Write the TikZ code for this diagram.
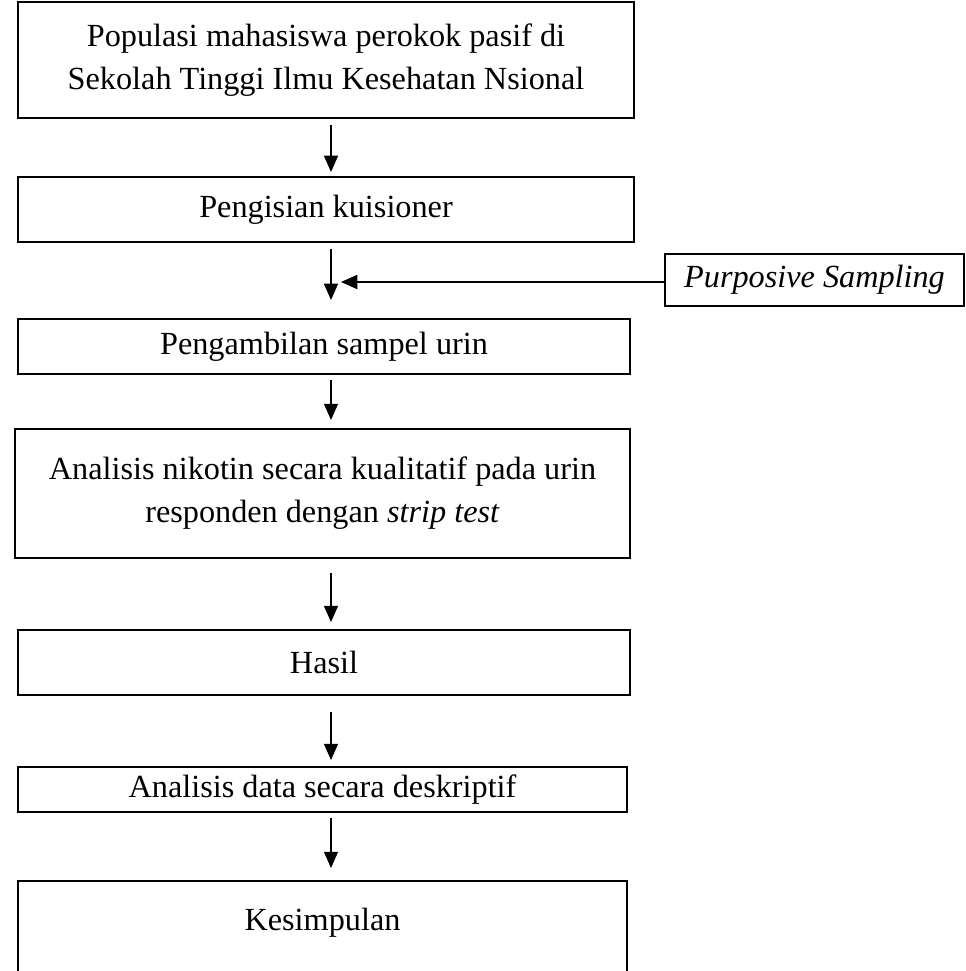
\documentclass[tikz,border=0pt]{standalone}
\usepackage{fontspec}
\setmainfont{Liberation Serif}
\usetikzlibrary{arrows.meta}

\begin{document}
\begin{tikzpicture}[x=0.4pt,y=-0.4pt,
        every node/.append style={font=\fontsize{12.9}{17.4}\selectfont},
        flow/.style={-{Triangle[length=6.5pt,width=5.6pt]},line width=0.6pt}]
      \tikzstyle{box} = [draw,rectangle,line width=0.8pt,align=center,inner sep=0pt]
      \useasboundingbox (0,0) rectangle (965,971);
      % kotak alur utama
      \node (populasi) [box,minimum width=246.4pt,minimum height=46.4pt] at (326,60)
        {Populasi mahasiswa perokok pasif di\\Sekolah Tinggi Ilmu Kesehatan Nsional};
      \node (kuisioner) [box,minimum width=246.4pt,minimum height=26pt] at (326,210)
        {Pengisian kuisioner};
      \node (purposive) [box,minimum width=119.6pt,minimum height=20.8pt] at (814.5,280)
        {\itshape Purposive Sampling};
      \node (sampel) [box,minimum width=244.8pt,minimum height=22pt] at (324,346.5)
        {Pengambilan sampel urin};
      \node (analisis) [box,minimum width=246pt,minimum height=51.6pt] at (322.5,493)
        {Analisis nikotin secara kualitatif pada urin\\responden dengan \textit{strip test}};
      \node (hasil) [box,minimum width=244.8pt,minimum height=26pt] at (324,662.5)
        {Hasil};
      \node (deskriptif) [box,minimum width=243.6pt,minimum height=18pt] at (322.5,789.5)
        {Analisis data secara deskriptif};
      \node (kesimpulan) [box,anchor=north,minimum width=243.6pt,
        text height=19.6pt,text depth=40pt] at (322.5,880) {Kesimpulan};
      % panah
      \coordinate (a1) at (331,125);  \coordinate (b1) at (331,172);
      \coordinate (a2) at (331,249);  \coordinate (b2) at (331,300);
      \coordinate (a3) at (331,380);  \coordinate (b3) at (331,420);
      \coordinate (a4) at (331,573);  \coordinate (b4) at (331,622);
      \coordinate (a5) at (331,712);  \coordinate (b5) at (331,760);
      \coordinate (a6) at (331,818);  \coordinate (b6) at (331,868);
      \coordinate (ps) at (341,282);
      \draw[flow] (a1) -- (b1);
      \draw[flow] (a2) -- (b2);
      \draw[flow] (purposive.west |- ps) -- (ps);
      \draw[flow] (a3) -- (b3);
      \draw[flow] (a4) -- (b4);
      \draw[flow] (a5) -- (b5);
      \draw[flow] (a6) -- (b6);
\end{tikzpicture}
\end{document}
